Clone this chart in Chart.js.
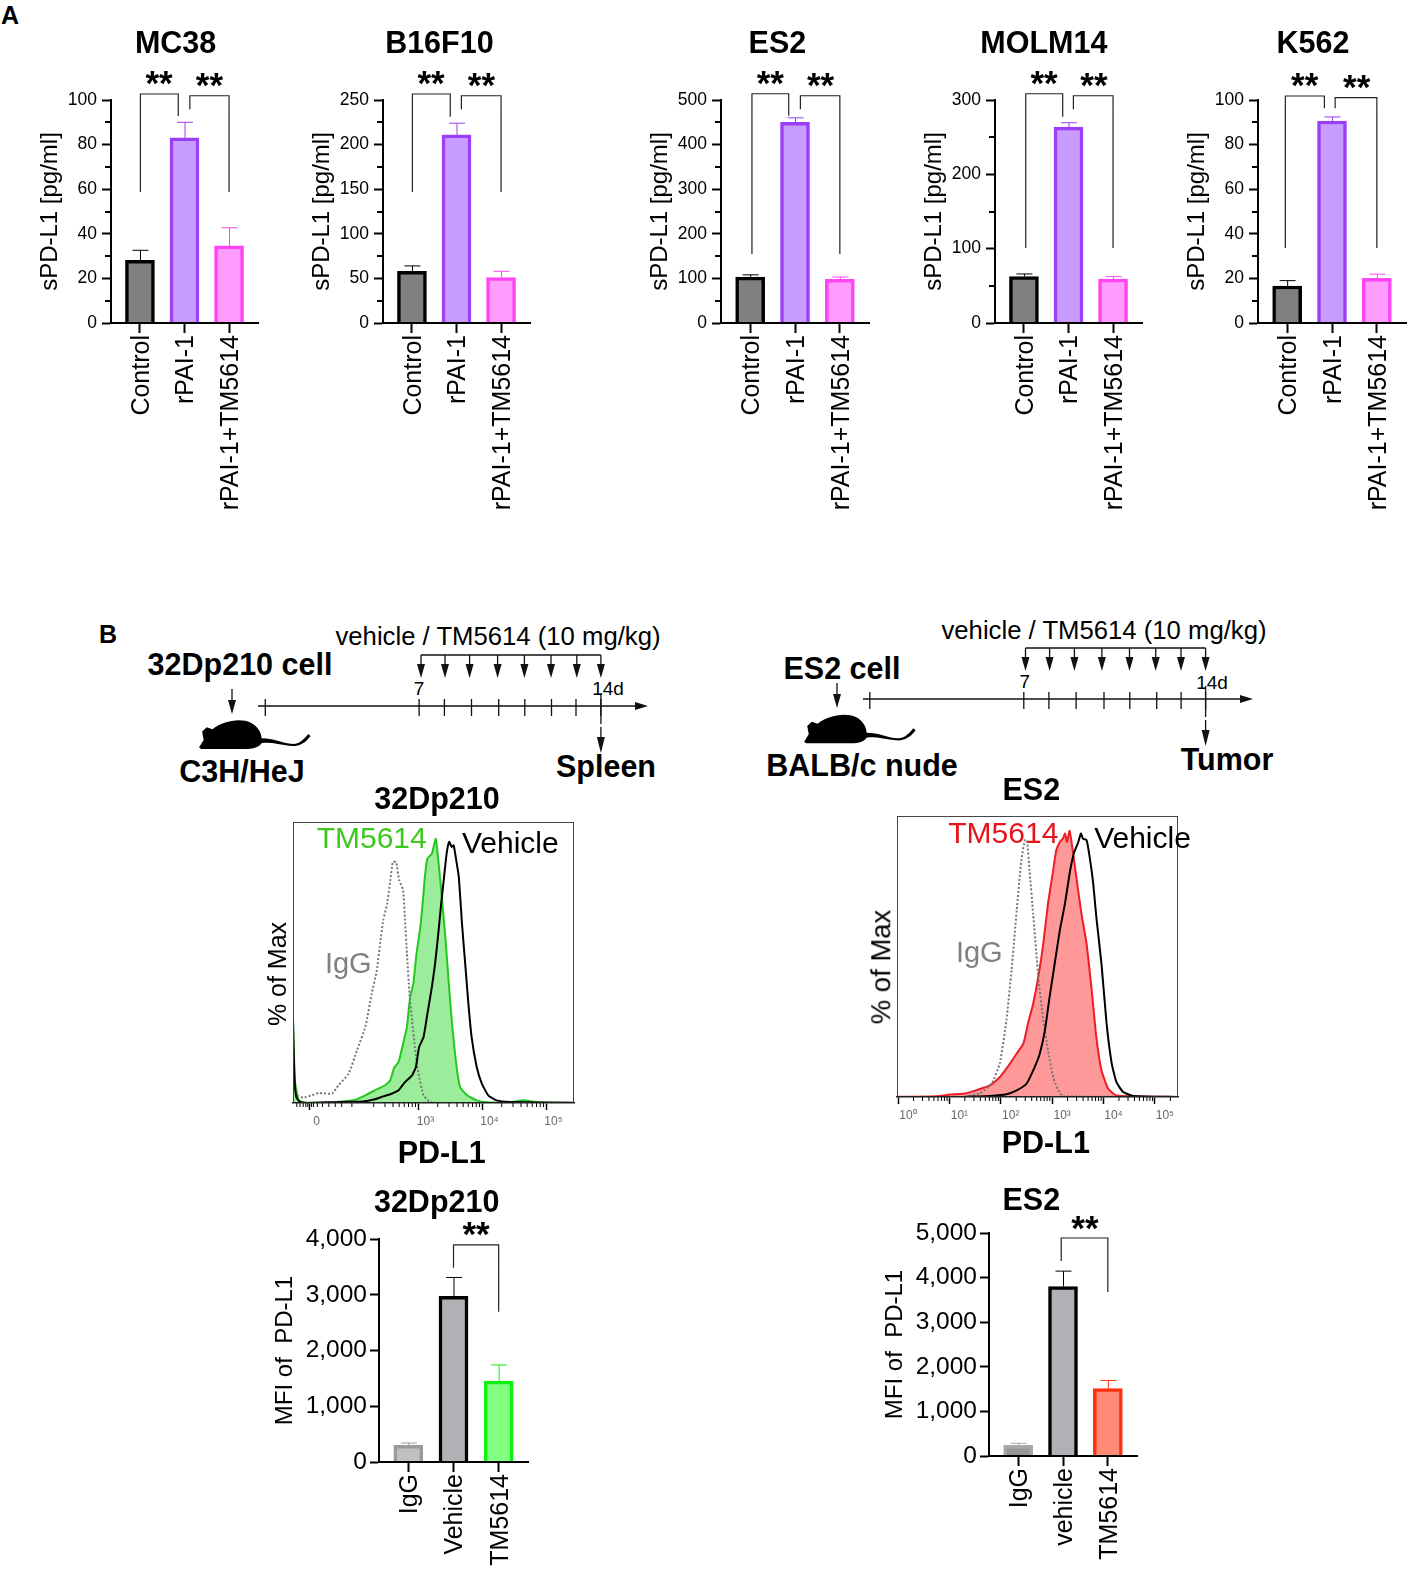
<!DOCTYPE html>
<html>
<head>
<meta charset="utf-8">
<title>sPD-L1 and PD-L1 panels</title>
<script src="https://cdn.jsdelivr.net/npm/chart.js@4"></script>
<style>
  html, body { margin: 0; padding: 0; background: #fff; }
  #page { position: relative; width: 1417px; height: 1572px; overflow: hidden; font-family: "Liberation Sans", Arial, sans-serif; }
  #page canvas { position: absolute; }
  #page svg { position: absolute; left: 0; top: 0; }
  .lbl { position: absolute; white-space: pre; line-height: 1; transform: translate(-50%, -50%); }
</style>
</head>
<body>
<div id="page"></div>
<script>
// ---- data ----
const sPdl1Cats = ['Control', 'rPAI-1', 'rPAI-1+TM5614'];

const mc38Mean = [28.1, 83, 34.6];
const mc38Upper = [32.6, 90, 42.7];
const mc38Ticks = [0, 20, 40, 60, 80, 100];

const b16Mean = [58, 211, 51];
const b16Upper = [64, 224, 58];
const b16Ticks = [0, 50, 100, 150, 200, 250];

const es2Mean = [103, 450, 98];
const es2Upper = [108, 460, 103];
const es2Ticks = [0, 100, 200, 300, 400, 500];

const molmMean = [62.4, 263.6, 59];
const molmUpper = [66, 269.4, 62.4];
const molmTicks = [0, 100, 200, 300];

const k562Mean = [16.6, 90.6, 20];
const k562Upper = [19, 92.4, 21.9];
const k562Ticks = [0, 20, 40, 60, 80, 100];

const mfiCatsLeft = ['IgG', 'Vehicle', 'TM5614'];
const mfiLeftMean = [300, 2970, 1450];
const mfiLeftUpper = [340, 3310, 1740];
const mfiLeftTicks = [0, 1000, 2000, 3000, 4000];

const mfiCatsRight = ['IgG', 'vehicle', 'TM5614'];
const mfiRightMean = [240, 3800, 1514];
const mfiRightUpper = [285, 4145, 1694];
const mfiRightTicks = [0, 1000, 2000, 3000, 4000, 5000];

// flow histograms, x is the decade position on the axis, y is % of max
const h32VehicleX = [1.04,1.06,1.09,1.15,1.26,1.67,1.93,2.14,2.30,2.45,2.58,2.69,2.79,2.90,2.96,3.01,3.08,3.14,3.21,3.26,3.31,3.35,3.40,3.44,3.48,3.52,3.55,3.59,3.63,3.68,3.73,3.78,3.83,3.91,3.99,4.09,4.22,4.43,5.43];
const h32VehicleY = [31.2,11.1,2.3,.4,0,.3,.5,.6,1.3,2.5,3.5,4.8,7.9,10.4,13.6,21.1,24.9,33.7,43.8,52.6,63.9,74,85.3,94.1,98.5,96.6,97.2,91.6,85.3,67.7,52.6,37.5,24.9,13.6,7.3,2.9,1,.4,.1];
const h32DrugX = [1.04,1.07,1.13,1.26,1.72,1.98,2.17,2.32,2.48,2.56,2.62,2.69,2.76,2.82,2.87,2.92,2.97,3.03,3.07,3.10,3.14,3.21,3.27,3.31,3.36,3.42,3.47,3.52,3.59,3.65,3.76,3.91,4.07,4.43,4.64,4.85,5.43];
const h32DrugY = [31.2,8.6,1,.1,.4,1,2.9,4.8,6.7,8.6,13.3,15.5,22.4,28.7,40,45,56.4,66.4,76.5,85.3,92.2,94.1,99.7,91.6,79,62.6,46.3,31.2,14.8,6,2.9,1,.3,.3,1,.3,0];
const h32IggX = [1.04,1.10,1.20,1.33,1.44,1.65,1.75,1.91,2.04,2.17,2.27,2.35,2.40,2.45,2.51,2.56,2.60,2.65,2.70,2.76,2.79,2.82,2.86,2.90,2.95,3,3.08,3.18,3.49,5.43];
const h32IggY = [8.6,2.9,2,2.9,3.8,3.5,6.7,11.1,19.9,28.7,41.3,50.1,60.1,68.9,75.2,84,90.9,90.9,84,80.3,68.9,56.4,41.3,31.2,19.9,11.1,2.9,.3,0,0];
const h32TickPos = [1.3, 3, 4, 5];
const h32TickLabels = ['0', '10³', '10⁴', '10⁵'];

const hEsVehicleX = [1.33,1.79,2.11,2.31,2.50,2.66,2.76,2.86,2.95,3.05,3.15,3.25,3.34,3.42,3.51,3.56,3.60,3.67,3.73,3.80,3.86,3.96,4.06,4.16,4.25,4.38,4.58,5.45];
const hEsVehicleY = [.1,.4,1,2.5,5,11.3,16.4,25.2,37.7,50.3,62.9,73,84.3,91.8,96.2,99.4,97.5,96.9,90.6,80.5,67.9,50.3,27.7,12.6,5.7,1.9,.4,0];
const hEsDrugX = [0,.75,1.01,1.30,1.56,1.79,1.98,2.18,2.31,2.44,2.53,2.63,2.73,2.82,2.92,3.02,3.08,3.15,3.21,3.25,3.29,3.34,3.41,3.47,3.57,3.67,3.77,3.86,3.96,4.09,4.25,5.45];
const hEsDrugY = [.1,.3,.9,1.3,2.8,4.4,7.5,12.6,16.4,20.1,27.7,35.2,45.3,56.6,73,85.5,93.1,96.2,97.5,99.4,96.2,100.4,91.8,83,69.2,57.9,40.3,22.6,10.1,3.1,.6,0];
const hEsIggX = [-.02,1.27,1.59,1.82,1.98,2.11,2.21,2.31,2.40,2.47,2.51,2.56,2.63,2.73,2.82,2.92,3.02,3.12,3.21,5.45];
const hEsIggY = [0,.1,1.3,5,12.6,28.9,47.8,70.4,89.3,96.9,96.9,85.5,69.2,45.3,30.2,17.6,7.5,2.5,.3,0];
const hEsTickPos = [0, 1, 2, 3, 4, 5];
const hEsTickLabels = ['10⁰', '10¹', '10²', '10³', '10⁴', '10⁵'];

// ---- colours ----
const grey = { fill: '#808080', line: '#000000' };
const purple = { fill: '#c79bff', line: '#9a3ff5' };
const pink = { fill: '#ff9cff', line: '#ff44f5' };
const sPdl1Colors = [grey, purple, pink];

Chart.defaults.font.family = '"Liberation Sans", Arial, sans-serif';
Chart.defaults.color = '#000';
Chart.defaults.animation = false;

const page = document.getElementById('page');

function addCanvas(x, y, w, h) {
  const c = document.createElement('canvas');
  c.width = w; c.height = h;
  c.style.left = x + 'px'; c.style.top = y + 'px';
  c.style.width = w + 'px'; c.style.height = h + 'px';
  page.appendChild(c);
  return c;
}

function label(text, x, y, size, opts) {
  opts = opts || {};
  const d = document.createElement('div');
  d.className = 'lbl';
  d.textContent = text;
  d.style.left = x + 'px'; d.style.top = y + 'px';
  d.style.fontSize = size + 'px';
  d.style.fontWeight = opts.bold ? 'bold' : 'normal';
  d.style.color = opts.color || '#000';
  if (opts.rot) d.style.transform = 'translate(-50%, -50%) rotate(-90deg)';
  page.appendChild(d);
}

// bar panel: p holds where the axes sit on the page, plus brackets and stars in scale units
function barPanel(p) {
  const padTop = 60, padRight = 40;
  const W = p.end - p.axis + p.yw + padRight;
  const H = padTop + (p.y0 - p.top) + p.xh;
  const ymax = p.ticks[p.ticks.length - 1];
  const marks = {
    id: 'marks',
    afterDatasetsDraw(chart) {
      const ctx = chart.ctx, xs = chart.scales.x, ys = chart.scales.y;
      ctx.save();
      // minor ticks halfway between the labelled ones
      if (p.minor) {
        ctx.strokeStyle = '#000'; ctx.lineWidth = 2;
        for (let i = 0; i + 1 < p.ticks.length; i++) {
          const yp = Math.round(ys.getPixelForValue((p.ticks[i] + p.ticks[i + 1]) / 2));
          ctx.beginPath(); ctx.moveTo(xs.left, yp); ctx.lineTo(xs.left - 6, yp); ctx.stroke();
        }
      }
      // error bars, upper side only
      ctx.lineWidth = 1;
      p.upper.forEach((u, i) => {
        const xp = xs.getPixelForValue(i), top = ys.getPixelForValue(u), bot = ys.getPixelForValue(p.mean[i]);
        ctx.strokeStyle = p.colors[i].line;
        ctx.beginPath();
        ctx.moveTo(xp + .5, bot); ctx.lineTo(xp + .5, top);
        ctx.moveTo(xp - 7.5, top); ctx.lineTo(xp + 8.5, top);
        ctx.stroke();
      });
      // significance brackets
      ctx.strokeStyle = '#222'; ctx.lineWidth = 1.2;
      (p.brackets || []).forEach(b => {
        const x0 = xs.getPixelForValue(b[0]), x1 = xs.getPixelForValue(b[1]);
        const yf = f => ys.getPixelForValue(f * ymax);
        ctx.beginPath();
        ctx.moveTo(x0, yf(b[3])); ctx.lineTo(x0, yf(b[2])); ctx.lineTo(x1, yf(b[2])); ctx.lineTo(x1, yf(b[4]));
        ctx.stroke();
      });
      ctx.fillStyle = '#000'; ctx.font = 'bold 35px "Liberation Sans", Arial, sans-serif';
      ctx.textAlign = 'center'; ctx.textBaseline = 'alphabetic';
      (p.stars || []).forEach(s => {
        ctx.fillText('**', xs.getPixelForValue(s[0]), ys.getPixelForValue(s[1] * ymax) + 17);
      });
      ctx.restore();
    }
  };
  new Chart(addCanvas(p.axis - p.yw, p.top - padTop, W, H), {
    type: 'bar',
    data: {
      datasets: [{
        data: p.mean.map((v, i) => ({ x: i, y: v })),
        backgroundColor: p.colors.map(c => c.fill),
        borderColor: p.colors.map(c => c.line),
        borderWidth: 3.5,
        borderSkipped: 'bottom',
        barThickness: 29
      }]
    },
    options: {
      responsive: false,
      layout: { padding: { top: padTop, right: padRight, left: 0, bottom: 0 } },
      plugins: { legend: { display: false }, tooltip: { enabled: false } },
      scales: {
        x: {
          type: 'linear', min: -0.65, max: 2.65, offset: false,
          afterBuildTicks: s => { s.ticks = p.cats.map((c, i) => ({ value: i })); },
          afterFit: s => { s.height = p.xh; },
          grid: { offset: false, drawOnChartArea: false, tickLength: 10, tickWidth: 2, tickColor: '#000' },
          border: { color: '#000', width: 2, z: 1 },
          ticks: {
            autoSkip: false, minRotation: 90, maxRotation: 90, padding: 2, labelOffset: 2,
            font: { size: 25 }, color: '#000',
            callback: v => p.cats[v]
          }
        },
        y: {
          min: 0, max: ymax,
          afterBuildTicks: s => { s.ticks = p.ticks.map(v => ({ value: v })); },
          afterFit: s => { s.width = p.yw; },
          grid: { drawOnChartArea: false, tickLength: 9, tickWidth: 2, tickColor: '#000' },
          border: { color: '#000', width: 2, z: 1 },
          title: { display: true, text: p.yTitle, font: { size: 24 }, color: '#000', padding: 0 },
          ticks: {
            padding: p.yPad, font: { size: p.yFont }, color: '#000',
            callback: v => v.toLocaleString('en-US')
          }
        }
      }
    },
    plugins: [marks]
  });
}

function panelA(axis, end, mean, upper, ticks, brackets, stars) {
  barPanel({
    axis, end, top: 100, y0: 323, yw: 75, xh: 195, yFont: 17.5, yPad: 5, minor: true,
    cats: sPdl1Cats, mean, upper, ticks, colors: sPdl1Colors, brackets, stars,
    yTitle: 'sPD-L1 [pg/ml]'
  });
}

panelA(111, 258, mc38Mean, mc38Upper, mc38Ticks,
  [[.01, .86, 1.027, .588, .928], [1.12, 2, 1.019, .958, .588]], [[.43, 1.099], [1.56, 1.09]]);
panelA(383, 530, b16Mean, b16Upper, b16Ticks,
  [[.01, .86, 1.027, .588, .925], [1.11, 2, 1.019, .958, .588]], [[.43, 1.099], [1.56, 1.09]]);
panelA(721, 869, es2Mean, es2Upper, es2Ticks,
  [[.04, .86, 1.028, .309, .929], [1.12, 2, 1.019, .958, .309]], [[.45, 1.099], [1.57, 1.09]]);
panelA(995, 1142, molmMean, molmUpper, molmTicks,
  [[.04, .87, 1.028, .336, .925], [1.11, 2, 1.019, .958, .336]], [[.45, 1.099], [1.57, 1.09]]);
panelA(1258, 1406, k562Mean, k562Upper, k562Ticks,
  [[-.04, .83, 1.018, .336, .963], [1.07, 2, 1.011, .963, .336]], [[.39, 1.09], [1.55, 1.08]]);

const mfiLeftColors = [{ fill: '#c0c0c0', line: '#9a9a9a' }, { fill: '#b0b0b5', line: '#000' }, { fill: '#80ff80', line: '#10f010' }];
const mfiRightColors = [{ fill: '#969696', line: '#a8a8a8' }, { fill: '#b0b0b5', line: '#000' }, { fill: '#ff8a75', line: '#ff3010' }];

barPanel({
  axis: 379, end: 528, top: 1239, y0: 1462, yw: 108, xh: 105, yFont: 24.5, yPad: 3,
  cats: mfiCatsLeft, mean: mfiLeftMean, upper: mfiLeftUpper, ticks: mfiLeftTicks, colors: mfiLeftColors,
  brackets: [[1, 2, .974, .871, .674]], stars: [[1.5, 1.046]], yTitle: 'MFI of  PD-L1'
});
barPanel({
  axis: 989, end: 1137, top: 1233, y0: 1456, yw: 108, xh: 105, yFont: 24.5, yPad: 3,
  cats: mfiCatsRight, mean: mfiRightMean, upper: mfiRightUpper, ticks: mfiRightTicks, colors: mfiRightColors,
  brackets: [[.96, 2, .9775, .875, .735]], stars: [[1.49, 1.045]], yTitle: 'MFI of  PD-L1'
});

// flow histogram panel
function toPts(xs, ys) { return xs.map((x, i) => ({ x, y: ys[i] })); }

function histPanel(p) {
  const pad = 15, xh = 45;
  const frame = {
    id: 'frame',
    afterDatasetsDraw(chart) {
      const a = chart.chartArea, xs = chart.scales.x, ctx = chart.ctx;
      ctx.save();
      ctx.strokeStyle = '#444'; ctx.lineWidth = 1;
      ctx.strokeRect(a.left + .5, a.top + .5, a.right - a.left - 1, a.bottom - a.top - 1);
      ctx.strokeStyle = '#000';
      p.minor.forEach(v => {
        const xp = xs.getPixelForValue(v);
        ctx.beginPath(); ctx.moveTo(xp, a.bottom); ctx.lineTo(xp, a.bottom + 4); ctx.stroke();
      });
      ctx.restore();
    }
  };
  new Chart(addCanvas(p.left - pad, p.top - pad, p.right - p.left + 2 * pad, p.bottom - p.top + pad + xh), {
    type: 'line',
    data: {
      datasets: [
        { data: toPts(p.vehX, p.vehY), borderColor: '#000', borderWidth: 2, order: 1 },
        { data: toPts(p.iggX, p.iggY), borderColor: '#777', borderWidth: 2, borderDash: [2, 2], order: 2 },
        { data: toPts(p.drugX, p.drugY), borderColor: p.drugLine, backgroundColor: p.drugFill, borderWidth: 2, fill: 'origin', order: 3 }
      ]
    },
    options: {
      responsive: false,
      layout: { padding: { top: pad, left: pad, right: pad, bottom: 0 } },
      elements: { point: { radius: 0 }, line: { tension: 0.15 } },
      plugins: { legend: { display: false }, tooltip: { enabled: false } },
      scales: {
        x: {
          type: 'linear', min: p.xMin, max: p.xMax,
          afterBuildTicks: s => { s.ticks = p.tickPos.map(v => ({ value: v })); },
          afterFit: s => { s.height = xh; },
          grid: { drawOnChartArea: false, tickLength: 7, tickWidth: 1.5, tickColor: '#000' },
          border: { color: '#222', width: 1.5, z: 1 },
          ticks: {
            autoSkip: false, maxRotation: 0, padding: 4, labelOffset: p.labelOffset,
            font: { size: 12 }, color: '#666',
            callback: v => p.tickLabels[p.tickPos.indexOf(v)]
          }
        },
        y: { display: false, min: 0, max: 106 }
      }
    },
    plugins: [frame]
  });
}

function decadeMinor(from, to) {
  const out = [];
  for (let d = from; d <= to; d++) for (let k = 2; k < 10; k++) out.push(d + Math.log10(k));
  return out;
}

histPanel({
  left: 293, right: 574, top: 822, bottom: 1103, xMin: 1.04, xMax: 5.43, labelOffset: 7,
  vehX: h32VehicleX, vehY: h32VehicleY, drugX: h32DrugX, drugY: h32DrugY, iggX: h32IggX, iggY: h32IggY,
  drugLine: '#22c81e', drugFill: 'rgba(45,215,45,.48)',
  tickPos: h32TickPos, tickLabels: h32TickLabels,
  minor: [1.1, 1.15, 1.2, 1.24, 1.27, 1.33, 1.36, 1.42, 1.5, 1.6, 1.7, 1.8, 1.96].concat(decadeMinor(2, 4).filter(v => v < 5.4))
});
histPanel({
  left: 897, right: 1178, top: 816, bottom: 1097, xMin: -0.02, xMax: 5.45, labelOffset: 10,
  vehX: hEsVehicleX, vehY: hEsVehicleY, drugX: hEsDrugX, drugY: hEsDrugY, iggX: hEsIggX, iggY: hEsIggY,
  drugLine: '#ee1c25', drugFill: 'rgba(255,60,60,.52)',
  tickPos: hEsTickPos, tickLabels: hEsTickLabels,
  minor: decadeMinor(0, 5).filter(v => v < 5.4)
});

// ---- text around the charts ----
const bigBold = { bold: true };
label('A', 10, 15, 25, bigBold);
label('B', 108, 634, 25, bigBold);
[['MC38', 175.6], ['B16F10', 439.4], ['ES2', 777.4], ['MOLM14', 1043.8], ['K562', 1313]].forEach(t => {
  label(t[0], t[1], 42, 30.5, bigBold);
});

label('vehicle / TM5614 (10 mg/kg)', 498, 637, 25.7);
label('32Dp210 cell', 240, 664, 30.5, bigBold);
label('C3H/HeJ', 242, 771, 30.5, bigBold);
label('Spleen', 606, 766, 30.5, bigBold);
label('7', 419, 688, 19);
label('14d', 608, 688, 19);
label('32Dp210', 437, 798, 30.5, bigBold);
label('TM5614', 371.7, 838, 30, { color: '#3ec81e' });
label('Vehicle', 510.3, 843, 30);
label('IgG', 348.3, 963, 29, { color: '#808080' });
label('% of Max', 277.3, 974, 25, { rot: true });
label('PD-L1', 441.7, 1152, 30.5, bigBold);
label('32Dp210', 436.7, 1201, 30.5, bigBold);

label('vehicle / TM5614 (10 mg/kg)', 1104, 631, 25.7);
label('ES2 cell', 842, 668, 30.5, bigBold);
label('BALB/c nude', 862, 765, 30.5, bigBold);
label('Tumor', 1227, 759, 30.5, bigBold);
label('7', 1024.8, 681, 19);
label('14d', 1212, 682, 19);
label('ES2', 1031.3, 789, 30.5, bigBold);
label('TM5614', 1003.3, 833, 30, { color: '#e8141c' });
label('Vehicle', 1142.5, 838, 30);
label('IgG', 979.3, 952, 29, { color: '#808080' });
label('% of Max', 880.8, 967, 27.5, { rot: true });
label('PD-L1', 1045.8, 1142, 30.5, bigBold);
label('ES2', 1031.3, 1199, 30.5, bigBold);

// ---- treatment schedule drawings ----
const svgNS = 'http://www.w3.org/2000/svg';
const svg = document.createElementNS(svgNS, 'svg');
svg.setAttribute('width', 1417); svg.setAttribute('height', 1572);
page.appendChild(svg);

function sv(tag, attrs) {
  const e = document.createElementNS(svgNS, tag);
  for (const k in attrs) e.setAttribute(k, attrs[k]);
  svg.appendChild(e);
  return e;
}
function seg(x1, y1, x2, y2, w) { sv('line', { x1, y1, x2, y2, stroke: '#111', 'stroke-width': w || 1.3 }); }
function downArrow(x, y1, y2, headLen) {
  seg(x, y1, x, y2 - headLen + 1);
  sv('path', { d: `M${x - 4} ${y2 - headLen} L${x + 4} ${y2 - headLen} L${x} ${y2} Z`, fill: '#111' });
}
function mouse(x, y, sx, sy) {
  const path = 'M285 412 L297 390 L293 365 L305 352 L320 358 C345 335 390 322 420 338 C440 350 448 370 448 385 ' +
    'C480 385 500 400 530 402 C550 402 560 385 570 372 L576 378 C562 400 545 410 525 408 C495 405 470 395 448 400 ' +
    'C440 415 420 417 400 417 L290 417 Z';
  sv('path', { d: path, fill: '#000', transform: `translate(${x} ${y}) scale(${sx} ${sy}) translate(-283 -325)` });
}

function schedule(s) {
  seg(s.x0, s.y, s.tip - 10, s.y, 1.6);
  sv('path', { d: `M${s.tip - 13} ${s.y - 4} L${s.tip} ${s.y} L${s.tip - 13} ${s.y + 4} Z`, fill: '#111' });
  s.ticks.forEach(x => seg(x, s.y - 7, x, s.y + 10));
  const last = s.ticks[s.ticks.length - 1];
  seg(last, s.y - 13, last, s.y + 18);
  seg(s.arrows[0], s.bracketY, s.arrows[s.arrows.length - 1], s.bracketY, 1.5);
  s.arrows.forEach(x => downArrow(x, s.bracketY, s.bracketY + 23, 14));
  downArrow(last, s.y + 21, s.y + 47, 16);
  downArrow(s.cellX, s.cellY1, s.cellY2, 14);
}

schedule({
  x0: 258, tip: 648, y: 706, bracketY: 655, cellX: 232, cellY1: 689, cellY2: 714,
  ticks: [265.3, 419.1, 444.4, 471.5, 498.7, 524.8, 551.5, 576, 600.9],
  arrows: [421, 445, 469.6, 497.6, 524.4, 551, 576.8, 600.9]
});
schedule({
  x0: 863, tip: 1253, y: 699, bracketY: 648, cellX: 837, cellY1: 683, cellY2: 708,
  ticks: [869.8, 1023.8, 1048.9, 1076.1, 1104, 1129.8, 1156.7, 1181.1, 1205.6],
  arrows: [1025.5, 1049.6, 1074.4, 1101.9, 1129.5, 1155.7, 1181, 1205.6]
});
mouse(198.3, 718.3, 0.383, 0.333);
mouse(803.4, 712.7, 0.383, 0.333);
</script>
</body>
</html>
